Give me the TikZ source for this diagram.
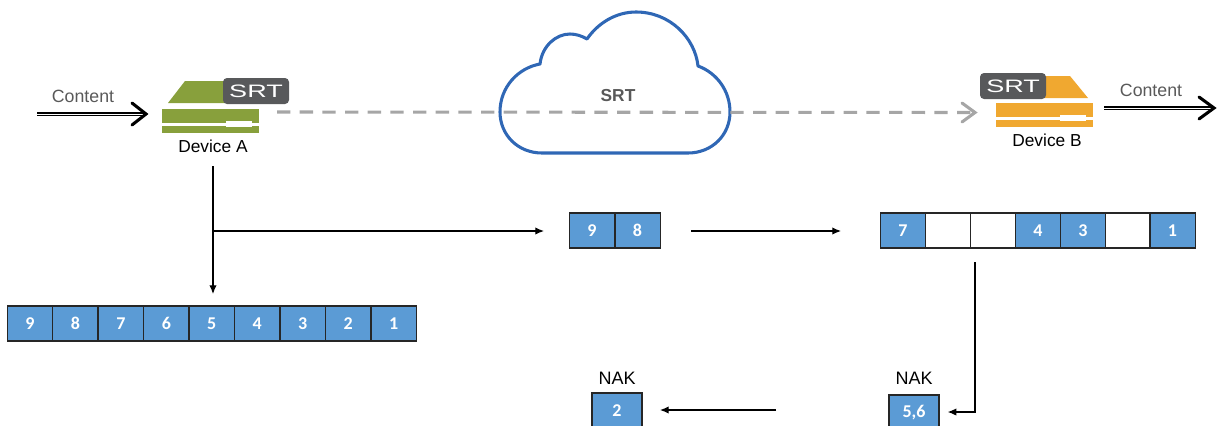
\documentclass[tikz,border=0pt]{standalone}
\usepackage{fontspec}
\setmainfont{Liberation Sans}
\newfontfamily\cellfont{Carlito}
\usetikzlibrary{arrows.meta}
\definecolor{cellblue}{HTML}{5B9BD5}
\definecolor{cellline}{HTML}{262626}
\definecolor{labelgray}{HTML}{595959}
\definecolor{dashgray}{HTML}{A6A6A6}
\definecolor{cloudblue}{HTML}{2F67B5}
\definecolor{devgreen}{HTML}{88A03C}
\definecolor{devorange}{HTML}{F0A830}
\definecolor{badgegray}{HTML}{58595B}
\tikzset{
  x=0.75pt,y=-0.75pt,
  cellbox/.style={draw=cellline,line width=1pt,fill=cellblue,text=white,minimum width=34pt,minimum height=26.25pt,inner sep=0pt,font=\cellfont\bfseries\fontsize{13.5}{15}\selectfont},
  emptybox/.style={cellbox,fill=white},
  nakbox/.style={cellbox,minimum width=37.5pt},
  nakhead/.style={font=\fontsize{13.5}{15}\selectfont,text=black,inner sep=0pt},
  contentlabel/.style={font=\fontsize{13.3}{15}\selectfont,text=labelgray,inner sep=0pt},
  devlabel/.style={font=\fontsize{13}{15}\selectfont,text=black,inner sep=0pt},
  flow/.style={draw=black,line width=0.85pt,-{Latex[length=6.5pt,width=5.5pt]}},
  doubleline/.style={draw=black,line width=1pt,double=white,double distance=0.7pt},
  chevron/.style={draw=black,line width=2.3pt,line cap=round,line join=miter},
  dashedlink/.style={draw=dashgray,line width=2.3pt,dash pattern=on 10pt off 7pt},
  dashedtip/.style={draw=dashgray,line width=2.3pt,line cap=round},
  badge/.style={fill=badgegray,draw=none,rounded corners=3pt},
  badgetext/.style={text=white,font=\fontsize{13.5}{14}\selectfont,xscale=1.5,inner sep=0pt},
}
\begin{document}
\begin{tikzpicture}
\useasboundingbox (0,0) rectangle (1223,425);
\clip (0,0) rectangle (1223,425);

% cloud
\draw[cloudblue,line width=2.3pt,line join=round]
  (542,153) .. controls (518,153) and (500,135) .. (500,112)
  .. controls (500,87) and (518,68) .. (540,64)
  .. controls (542,46) and (556,34) .. (570,34)
  .. controls (576,34) and (582,36) .. (587,39)
  .. controls (598,23) and (616,12) .. (636,12)
  .. controls (670,12) and (695,38) .. (698,66)
  .. controls (717,73) and (730,91) .. (730,112)
  .. controls (730,135) and (712,153) .. (688,153) -- cycle;
\node[font=\bfseries\fontsize{13}{15}\selectfont,text=labelgray,inner sep=0pt] (cloudlabel) at (618,96) {SRT};

% device A
\fill[devgreen] (168,103) -- (185,81) -- (255,81) -- (255,103) -- cycle;
\fill[badge] (223,78) rectangle (289,104);
\node[badgetext] (badgeA) at (256,91) {SRT};
\fill[devgreen] (162,109) rectangle (259,123);
\fill[devgreen] (162,126) rectangle (259,133);
\fill[white] (226,121) rectangle (252,127);
\node[devlabel] (devA) at (213,146) {Device A};

% device B
\fill[devorange] (1030,76) -- (1070,76) -- (1088,98) -- (1030,98) -- cycle;
\fill[badge] (980,73) rectangle (1046,99);
\node[badgetext] (badgeB) at (1013,86) {SRT};
\fill[devorange] (996,103) rectangle (1093,117);
\fill[devorange] (996,120) rectangle (1093,127);
\fill[white] (1060,115) rectangle (1086,121);
\node[devlabel] (devB) at (1047,140) {Device B};

% content arrows
\node[contentlabel] (contentA) at (83,96) {Content};
\node[contentlabel] (contentB) at (1151,90) {Content};
\coordinate (inS) at (37,114);
\coordinate (inE) at (146,114);
\coordinate (outS) at (1104,108);
\coordinate (outE) at (1214,108);
\draw[doubleline] (inS) -- (inE);
\draw[chevron] (132,103) -- (inE) -- (132,125);
\draw[doubleline] (outS) -- (outE);
\draw[chevron] (1199,97) -- (outE) -- (1199,119);

% dashed link
\coordinate (dashS) at (277,112);
\coordinate (dashE) at (975,112.5);
\draw[dashedlink] (dashS) -- (dashE);
\draw[dashedtip] (962,103) -- (dashE) -- (962,122);

% sender buffer
\foreach \n [count=\i from 0] in {9,8,7,6,5,4,3,2,1}
  \node[cellbox] (s\n) at ({30+\i*45.45},323.5) {\n};

% packets in flight
\node[cellbox] (f9) at (592,230.5) {9};
\node[cellbox] (f8) at (637.5,230.5) {8};

% receiver buffer
\node[cellbox] (r7) at (903,230.5) {7};
\node[emptybox] (r6) at (948,230.5) {};
\node[emptybox] (r5) at (993,230.5) {};
\node[cellbox] (r4) at (1038,230.5) {4};
\node[cellbox] (r3) at (1083,230.5) {3};
\node[emptybox] (r2) at (1128,230.5) {};
\node[cellbox] (r1) at (1172.5,230.5) {1};

% NAK
\node[nakbox] (nak2) at (617,410.5) {2};
\node[nakbox] (nak56) at (914,412.5) {5,6};
\node[nakhead] (nakh2) at (617,378) {NAK};
\node[nakhead] (nakh56) at (914,378) {NAK};

% connectors
\coordinate (branch) at (213,231);
\coordinate (downS) at (213,166);
\coordinate (downE) at (213,294);
\coordinate (toF) at (544,231);
\coordinate (midS) at (691,231);
\coordinate (midE) at (841,231);
\coordinate (recS) at (975,262);
\coordinate (recC) at (975,412);
\coordinate (nakS) at (776,410);
\draw[flow] (downS) -- (downE);
\draw[flow] (branch) -- (toF);
\draw[flow] (midS) -- (midE);
\draw[flow] (recS) -- (recC) -- ([xshift=6pt]nak56.east |- recC);
\draw[flow] (nakS) -- ([xshift=13pt]nak2.east |- nakS);
\end{tikzpicture}
\end{document}
